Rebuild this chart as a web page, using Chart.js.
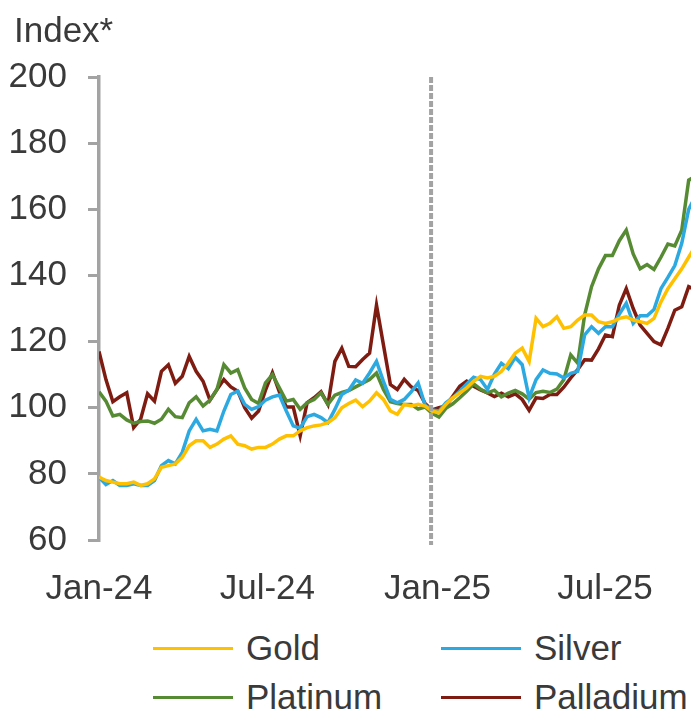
<!DOCTYPE html>
<html>
<head>
<meta charset="utf-8">
<script src="https://cdn.jsdelivr.net/npm/chart.js@4"></script>
<style>
  body { margin: 0; background: #fff; font-family: "Liberation Sans", Arial, sans-serif; color: #3a3a3a; }
  #wrap { position: relative; width: 691px; height: 720px; }
  #yTitle { position: absolute; left: 14px; top: 10px; font-size: 35px; line-height: 40px; }
  .leg { position: absolute; font-size: 35px; line-height: 40px; }
  .leg span { display: inline-block; width: 80px; height: 3px; vertical-align: middle; margin-right: 13px; position: relative; top: -2px; }
</style>
</head>
<body>
<div id="wrap">
  <canvas id="chart" width="691" height="620" style="position:absolute;left:0;top:0"></canvas>
  <div id="yTitle">Index*</div>
  <div id="legend"></div>
</div>
<script>
// x values in days from 1 Jan 2024
const days = [0,7.5,15,22.5,30,37.5,45,52.5,60,67.5,
  75,82.5,90,97.5,105,112.5,120,127.5,135,142.5,
  150,157.5,165,172.5,180,187.5,195,202.5,210,217.5,
  225,232.5,240,247.5,255,262.5,270,277.5,285,292.5,
  300,307.5,315,322.5,330,337.5,345,352.5,360,367.5,
  375,382.5,390,397.5,405,412.5,420,427.5,435,442.5,
  450,457.5,465,472.5,480,487.5,495,502.5,510,517.5,
  525,532.5,540,547.5,555,562.5,570,577.5,585,592.5,
  600,607.5,615,622.5,630,637.5,645];

const tickDays = [0, 182, 366, 547];
const tickLabels = ["Jan-24", "Jul-24", "Jan-25", "Jul-25"];
const baseDay = 359;

const gold = [79,78,77.5,77,77,77.5,76.5,77,78.5,82,
  82.5,83,85,88.5,90,90,88,89,90.5,91.5,
  89,88.5,87.5,88,88,89,90.5,91.5,91.5,93,
  94,94.5,94.8,95.5,97,100,101.3,102.3,100.3,102,
  104.5,102.5,99,98,101,100.5,101,100.5,99,98.5,
  101,103,104.5,106,108,109.5,109,109.5,111,113.5,
  116.5,118,114,127,124.5,125.5,127.5,124,124.5,126.5,
  128,128,126,125.5,126,127,127.5,126.5,126,125.5,
  127,132,136,139,142,145.5,149];

const silver = [79,76.8,78,76.5,76.5,77,76.5,76.5,78,82.5,
  84,83,86.5,93,96.5,93,93.5,93,99,104,
  105,101,99.5,100.3,102.3,103.3,103.8,99,94.5,93.8,
  97.3,98,97,95.5,99.5,104,105.3,108.4,107.4,110.5,
  114,108,102.5,101.5,102.5,104.8,107.5,100.8,99.3,99,
  101.5,103,105,107.2,109.2,108.5,105.5,110.2,113.4,111.8,
  115.2,113,103,108.5,111.4,110.4,110.2,109,110.4,111,
  122,124.5,122.5,124.5,124.5,128.3,131.6,125.5,127.8,127.8,
  129.7,136,139.4,143,149.7,160,164];

const platinum = [104.8,102,97.5,98,96.3,95.3,95.8,96,95.3,96.5,
  99.5,97.3,97,101.5,103.3,100.5,102.3,105.5,113,110.5,
  111.5,106,102.5,101.3,107.5,110,106,102,102.5,99.5,
  101.5,102.5,104.5,101,103.8,104.6,105.2,106.3,107.4,108.5,
  110.5,105.5,101.8,101.3,101,101,99.6,100.2,98.3,97.2,
  99.8,101.2,103,105,107.2,105.6,104.5,105.3,103.3,104.4,
  105.2,104.2,102.6,104.6,105,104.6,105.6,108.5,116,113.5,
  128,136.6,142,146,146,150.5,153.7,146.5,142,143.3,
  141.8,145.5,149.5,148.9,153.7,168.8,170];

const palladium = [117,108.5,101.8,103.3,104.5,94,96.5,104.2,102,111,
  113,107.4,109.5,115.5,111,108,102.3,105.5,108.5,106.3,
  105,100,96.8,99,105.3,110.6,104.8,100.2,100.2,91.5,
  101.5,103,104.8,101,114,118,112.5,112.4,114.6,116.5,
  131,119,107,105.5,108.6,106.3,105.2,101.3,99.3,100,
  100.5,103.5,106.5,108,106.5,105.4,104.5,103.4,104.4,103.3,
  104.2,102.5,99.2,103,102.8,104,104,106.2,109,111.5,
  114.5,114.4,117.8,122,121.5,131,136,130,125,122.5,
  120,119,124,129.5,130.5,136.6,135.6];

const seriesNames = ["Gold", "Silver", "Platinum", "Palladium"];
const seriesColors = ["#FFC000", "#2CA9E1", "#578B33", "#7E1C12"];
const seriesValues = [gold, silver, platinum, palladium];

const axisGrey = "#A3A3A3";
const font = { family: "'Liberation Sans', Arial, sans-serif", size: 35 };

// dashed line at the index base date
const baseLine = {
    id: "baseLine",
    afterDatasetsDraw(chart) {
        let ctx = chart.ctx;
        let x = chart.scales.x.getPixelForValue(baseDay);
        ctx.save();
        ctx.strokeStyle = axisGrey;
        ctx.lineWidth = 4;
        ctx.setLineDash([6, 2]);
        ctx.beginPath();
        ctx.moveTo(x, chart.chartArea.top);
        ctx.lineTo(x, chart.chartArea.bottom + 5);
        ctx.stroke();
        ctx.restore();
    }
};

new Chart(document.getElementById("chart").getContext("2d"), {
    type: "line",
    data: {
        datasets: seriesValues.map((vals, i) => ({
            label: seriesNames[i],
            data: vals.map((v, j) => ({ x: days[j], y: v })),
            borderColor: seriesColors[i],
            borderWidth: 3.5,
            pointRadius: 0,
            tension: 0
        }))
    },
    options: {
        responsive: false,
        animation: false,
        layout: { padding: { top: 77, left: 0, right: 0, bottom: 0 } },
        plugins: { legend: { display: false }, tooltip: { enabled: false } },
        scales: {
            x: {
                type: "linear",
                min: 0,
                max: 640,
                afterBuildTicks: s => { s.ticks = tickDays.map(v => ({ value: v })); },
                afterFit: s => { s.height = 80; },
                grid: { display: false },
                border: { display: false },
                ticks: {
                    font: font,
                    color: "#3a3a3a",
                    padding: 20,
                    maxRotation: 0,
                    autoSkip: false,
                    callback: v => tickLabels[tickDays.indexOf(v)]
                }
            },
            y: {
                min: 60,
                max: 200,
                afterFit: s => { s.width = 99; },
                grid: { drawOnChartArea: false, drawTicks: true, tickLength: 11, color: axisGrey, lineWidth: 3 },
                border: { display: true, color: axisGrey, width: 3.5 },
                ticks: { stepSize: 20, font: font, color: "#3a3a3a", padding: 21 }
            }
        }
    },
    plugins: [baseLine]
});

// legend in two columns
let legendPos = [[153, 628], [441, 628], [153, 677], [441, 677]];
let legend = document.getElementById("legend");
seriesNames.forEach((name, i) => {
    let item = document.createElement("div");
    item.className = "leg";
    item.style.left = legendPos[i][0] + "px";
    item.style.top = legendPos[i][1] + "px";
    item.innerHTML = '<span style="background:' + seriesColors[i] + '"></span>' + name;
    legend.appendChild(item);
});
</script>
</body>
</html>
